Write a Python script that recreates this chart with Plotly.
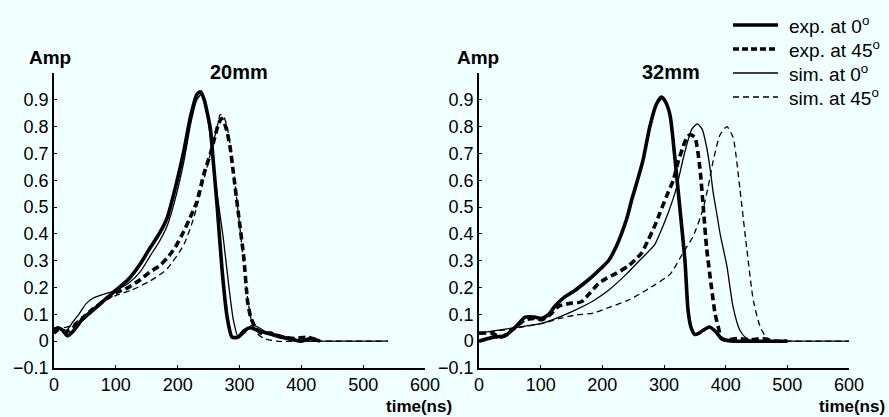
import plotly.graph_objects as go

# ---------------- data ----------------
# Left panel: 20mm
t_exp0_20 = [0, 6, 14, 22, 32, 45, 60, 80, 100, 120, 140, 156, 170, 183, 196, 210, 221, 231, 237, 243, 248, 253, 258, 264, 272, 280, 288, 298, 308, 318, 330, 345, 362, 380, 400, 415, 430]
a_exp0_20 = [0.04, 0.05, 0.04, 0.02, 0.04, 0.08, 0.11, 0.15, 0.19, 0.23, 0.29, 0.35, 0.40, 0.46, 0.57, 0.71, 0.84, 0.92, 0.93, 0.90, 0.85, 0.79, 0.66, 0.50, 0.26, 0.09, 0.015, 0.015, 0.04, 0.05, 0.04, 0.03, 0.02, 0.01, 0.0, 0.01, 0.0]

t_exp45_20 = [0, 8, 16, 25, 35, 50, 65, 80, 100, 120, 140, 156, 170, 183, 196, 210, 220, 231, 242, 253, 260, 266, 271, 276, 280, 285, 290, 298, 307, 313, 318, 326, 335, 350, 370, 390, 410, 430]
a_exp45_20 = [0.03, 0.045, 0.035, 0.04, 0.06, 0.09, 0.12, 0.15, 0.18, 0.20, 0.23, 0.26, 0.28, 0.31, 0.35, 0.41, 0.46, 0.52, 0.62, 0.70, 0.76, 0.81, 0.83, 0.81, 0.78, 0.72, 0.63, 0.48, 0.31, 0.15, 0.09, 0.05, 0.03, 0.03, 0.015, 0.01, 0.015, 0.0]

t_sim0_20 = [0, 10, 20, 30, 40, 52, 63, 80, 100, 120, 140, 156, 170, 183, 196, 210, 221, 231, 238, 244, 250, 256, 262, 268, 274, 282, 290, 298, 308, 320, 332, 345, 360, 380, 400, 450, 500, 540]
a_sim0_20 = [0.05, 0.05, 0.04, 0.07, 0.10, 0.14, 0.16, 0.175, 0.19, 0.215, 0.26, 0.32, 0.37, 0.43, 0.53, 0.67, 0.81, 0.90, 0.92, 0.89, 0.81, 0.70, 0.58, 0.48, 0.38, 0.22, 0.08, 0.015, 0.03, 0.06, 0.05, 0.03, 0.015, 0.005, 0.0, 0.0, 0.0, 0.0]

t_sim45_20 = [0, 15, 30, 45, 60, 80, 100, 125, 156, 183, 210, 226, 242, 253, 264, 269, 274, 280, 285, 290, 298, 306, 313, 320, 328, 340, 360, 400, 450, 500, 540]
a_sim45_20 = [0.05, 0.05, 0.06, 0.09, 0.12, 0.15, 0.17, 0.19, 0.225, 0.27, 0.36, 0.46, 0.60, 0.70, 0.80, 0.845, 0.84, 0.80, 0.73, 0.64, 0.48, 0.31, 0.16, 0.07, 0.03, 0.01, 0.0, 0.0, 0.0, 0.0, 0.0]

# Right panel: 32mm
t_exp0_32 = [0, 15, 26, 42, 58, 75, 90, 102, 113, 123, 139, 156, 170, 183, 197, 210, 222, 231, 240, 248, 257, 266, 277, 287, 296, 303, 310, 318, 326, 334, 339, 344, 350, 357, 363, 374, 384, 393, 402, 420, 450, 480, 500]
a_exp0_32 = [0.0, 0.01, 0.016, 0.02, 0.05, 0.09, 0.09, 0.085, 0.10, 0.13, 0.165, 0.19, 0.215, 0.24, 0.27, 0.30, 0.35, 0.40, 0.46, 0.53, 0.60, 0.675, 0.80, 0.88, 0.91, 0.89, 0.84, 0.675, 0.49, 0.30, 0.115, 0.05, 0.025, 0.03, 0.04, 0.053, 0.035, 0.01, 0.003, 0.0, 0.0, 0.0, 0.0]

t_exp45_32 = [0, 20, 37, 58, 75, 90, 102, 116, 129, 145, 166, 180, 194, 207, 220, 242, 256, 264, 275, 285, 293, 304, 315, 323, 331, 337, 342, 350, 358, 364, 369, 377, 383, 388, 393, 400, 420, 440, 460, 480, 500]
a_exp45_32 = [0.03, 0.03, 0.016, 0.05, 0.08, 0.085, 0.08, 0.10, 0.13, 0.14, 0.147, 0.18, 0.215, 0.235, 0.25, 0.28, 0.31, 0.33, 0.38, 0.43, 0.476, 0.54, 0.60, 0.67, 0.725, 0.76, 0.77, 0.76, 0.65, 0.49, 0.35, 0.20, 0.10, 0.053, 0.01, 0.005, 0.01, 0.005, 0.01, 0.0, 0.0]

t_sim0_32 = [0, 48, 102, 130, 156, 185, 210, 239, 260, 285, 293, 307, 320, 330, 336, 345, 354, 362, 369, 375, 380, 386, 391, 402, 412, 423, 434, 445, 470, 520, 560, 600]
a_sim0_32 = [0.03, 0.047, 0.066, 0.09, 0.116, 0.15, 0.19, 0.25, 0.30, 0.36, 0.40, 0.48, 0.57, 0.67, 0.725, 0.79, 0.81, 0.79, 0.725, 0.64, 0.55, 0.47, 0.40, 0.28, 0.128, 0.041, 0.01, 0.0, 0.0, 0.0, 0.0, 0.0]

t_sim45_32 = [0, 50, 102, 131, 156, 185, 210, 239, 260, 285, 310, 331, 347, 363, 372, 380, 391, 402, 412, 418, 423, 434, 445, 456, 467, 477, 500, 550, 600]
a_sim45_32 = [0.03, 0.045, 0.066, 0.085, 0.097, 0.105, 0.125, 0.15, 0.175, 0.21, 0.25, 0.33, 0.39, 0.49, 0.58, 0.675, 0.77, 0.80, 0.76, 0.67, 0.57, 0.35, 0.15, 0.054, 0.01, 0.0, 0.0, 0.0, 0.0]

panel_titles = ["20mm", "32mm"]
series_names = ["exp. at 0<sup>o</sup>", "exp. at 45<sup>o</sup>", "sim. at 0<sup>o</sup>", "sim. at 45<sup>o</sup>"]
y_tickvals = [-0.1, 0, 0.1, 0.2, 0.3, 0.4, 0.5, 0.6, 0.7, 0.8, 0.9]
y_ticktext = ["\u22120.1", "0", "0.1", "0.2", "0.3", "0.4", "0.5", "0.6", "0.7", "0.8", "0.9"]
x_tickvals = [0, 100, 200, 300, 400, 500, 600]

# ---------------- styling ----------------
FONT = "Liberation Sans, Arial, Helvetica, sans-serif"
BG = "#F0FFFF"
THICK, THIN = 3.6, 1.3
styles = [
    dict(width=THICK, dash="solid"),
    dict(width=THICK, dash="7px,4px"),
    dict(width=THIN, dash="solid"),
    dict(width=THIN, dash="6px,4px"),
]
legend_dash = ["solid", "6px,3px", "solid", "6px,4px"]

panels = [
    [(t_exp0_20, a_exp0_20), (t_exp45_20, a_exp45_20), (t_sim0_20, a_sim0_20), (t_sim45_20, a_sim45_20)],
    [(t_exp0_32, a_exp0_32), (t_exp45_32, a_exp45_32), (t_sim0_32, a_sim0_32), (t_sim45_32, a_sim45_32)],
]

fig = go.Figure()
for p, series in enumerate(panels):
    xa = "x" if p == 0 else "x2"
    ya = "y" if p == 0 else "y2"
    for i, (t, a) in enumerate(series):
        fig.add_trace(go.Scatter(
            x=t, y=a, mode="lines", xaxis=xa, yaxis=ya,
            name=series_names[i], showlegend=False,
            line=dict(color="black", width=styles[i]["width"], dash=styles[i]["dash"],
                      shape="spline", smoothing=0.6),
        ))

L, R, T, B = 54, 40, 73, 49
W, H = 889, 417
PW = W - L - R
PH = H - T - B

def px_x(px):
    return (px - L) / PW

def px_y(py):
    return (H - B - py) / PH

axis_common = dict(showline=True, linecolor="black", linewidth=1.5, ticks="inside",
                   ticklen=3, tickwidth=1, tickcolor="black", showgrid=False, zeroline=False,
                   tickfont=dict(family=FONT, size=18, color="black"))

fig.update_layout(
    width=W, height=H, margin=dict(l=L, r=R, t=T, b=B),
    paper_bgcolor=BG, plot_bgcolor=BG, showlegend=False,
    xaxis=dict(domain=[0, px_x(425)], range=[0, 600], tickvals=x_tickvals, anchor="y", **axis_common),
    xaxis2=dict(domain=[px_x(479), 1], range=[0, 600], tickvals=x_tickvals, anchor="y2", **axis_common),
    yaxis=dict(domain=[0, 1], range=[-0.1, 1.0], tickvals=y_tickvals, ticktext=y_ticktext, anchor="x", **axis_common),
    yaxis2=dict(domain=[0, 1], range=[-0.1, 1.0], tickvals=y_tickvals, ticktext=y_ticktext, anchor="x2", **axis_common),
)

ann = []
bold = dict(family=FONT, size=19, color="black")
# axis labels
for cx in (50, 478):
    ann.append(dict(x=px_x(cx), y=px_y(58), xref="paper", yref="paper", text="<b>Amp</b>",
                    showarrow=False, font=bold, xanchor="center", yanchor="middle"))
for rx in (454, 887):
    ann.append(dict(x=px_x(rx), y=px_y(406), xref="paper", yref="paper", text="<b>time(ns)</b>",
                    showarrow=False, font=dict(family=FONT, size=17, color="black"), xanchor="right", yanchor="middle"))
# panel titles
for title, cx in zip(panel_titles, (239, 671)):
    ann.append(dict(x=px_x(cx), y=px_y(72), xref="paper", yref="paper", text="<b>" + title + "</b>",
                    showarrow=False, font=dict(family=FONT, size=20, color="black"),
                    xanchor="center", yanchor="middle"))

# legend (drawn with shapes + text)
shapes = []
rows = [25, 49, 73, 97]
for i, name in enumerate(series_names):
    yy = px_y(rows[i])
    shapes.append(dict(type="line", xref="paper", yref="paper", x0=px_x(733), x1=px_x(778), y0=yy, y1=yy,
                       line=dict(color="black", width=styles[i]["width"], dash=legend_dash[i])))
    ann.append(dict(x=px_x(787), y=yy, xref="paper", yref="paper", text=name, showarrow=False,
                    font=dict(family=FONT, size=19, color="black"), xanchor="left", yanchor="middle"))

fig.update_layout(annotations=ann, shapes=shapes)
fig.write_html("out.html")
